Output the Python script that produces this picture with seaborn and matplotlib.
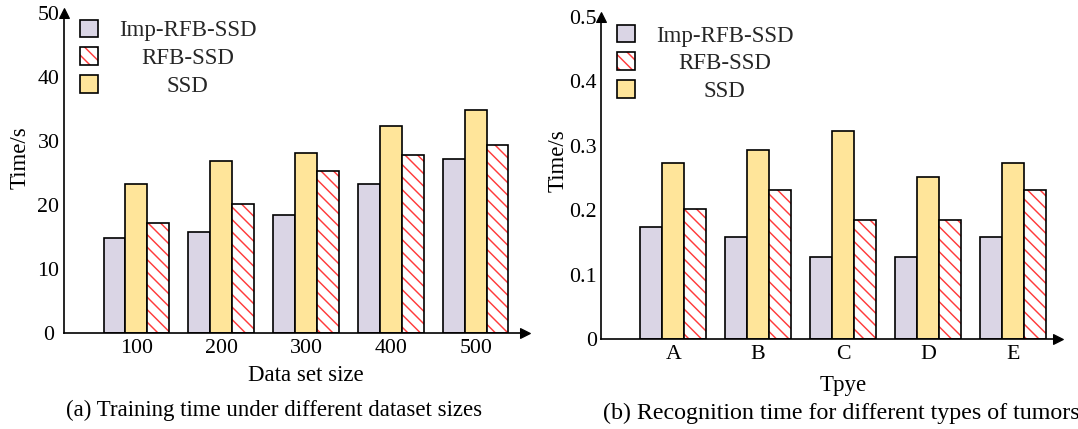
import matplotlib
matplotlib.use('Agg')
import matplotlib.pyplot as plt
from matplotlib.patches import Patch, Rectangle
import seaborn as sns
import pandas as pd

# data
sizes = ['100', '200', '300', '400', '500']
imp_train = [14.9, 15.8, 18.5, 23.3, 27.3]
ssd_train = [23.3, 26.9, 28.1, 32.4, 34.9]
rfb_train = [17.3, 20.2, 25.3, 27.8, 29.4]

types = ['A', 'B', 'C', 'D', 'E']
imp_rec = [0.174, 0.159, 0.127, 0.127, 0.159]
ssd_rec = [0.273, 0.293, 0.323, 0.252, 0.273]
rfb_rec = [0.202, 0.232, 0.185, 0.185, 0.232]

ticks_left = [0, 10, 20, 30, 40, 50]
labels_left = ['0', '10', '20', '30', '40', '50']
ticks_right = [0, 0.1, 0.2, 0.3, 0.4, 0.5]
labels_right = ['0', '0.1', '0.2', '0.3', '0.4', '0.5']

models = ['Imp-RFB-SSD', 'SSD', 'RFB-SSD']
legend_order = ['Imp-RFB-SSD', 'RFB-SSD', 'SSD']
colors = {'Imp-RFB-SSD': '#DAD5E5', 'SSD': '#FFE59A', 'RFB-SSD': '#FFFFFF'}
HATCH_RED = '#FF3B3B'

sns.set_theme(style='white')
plt.rcParams['font.family'] = ['Liberation Serif', 'DejaVu Serif']
plt.rcParams['hatch.linewidth'] = 1.4

DPI = 75
fig = plt.figure(figsize=(1078 / DPI, 429 / DPI), dpi=DPI)
ax1 = fig.add_axes([0.0594, 0.223, 0.4276, 0.746])
ax2 = fig.add_axes([0.5575, 0.209, 0.424, 0.752])


def draw_panel(ax, cats, imp, ssd, rfb, ymax, xmax, leg_y):
    df = pd.DataFrame({
        'cat': cats * 3,
        'model': [m for m in models for _ in cats],
        'val': imp + ssd + rfb,
    })
    sns.barplot(data=df, x='cat', y='val', hue='model', hue_order=models,
                palette=colors, width=0.77, gap=0, saturation=1,
                edgecolor='black', linewidth=1.6, errorbar=None,
                legend=False, ax=ax)
    # red hatch on RFB-SSD, black outline on top
    for bar in ax.containers[2]:
        bar.set_edgecolor(HATCH_RED)
        bar.set_linewidth(0)
        bar.set_hatch('\\\\')
        ax.add_patch(Rectangle(bar.get_xy(), bar.get_width(), bar.get_height(),
                               fill=False, edgecolor='black', linewidth=1.6,
                               zorder=bar.get_zorder() + 0.1))
    ax.set_xlim(-0.85, xmax)
    ax.set_ylim(0, ymax)
    for s in ['top', 'right']:
        ax.spines[s].set_visible(False)
    for s in ['left', 'bottom']:
        ax.spines[s].set_linewidth(1.6)
        ax.spines[s].set_color('black')
    ax.tick_params(axis='x', length=0, pad=5, labelsize=21, colors='black')
    ax.tick_params(axis='y', length=3, width=1.2, direction='out',
                   labelsize=21, colors='black')
    # axis arrows
    ax.plot([0], [1], marker='^', color='black', ms=9, transform=ax.transAxes,
            clip_on=False)
    ax.plot([1], [0], marker='>', color='black', ms=9, transform=ax.transAxes,
            clip_on=False)

    handles = [
        Patch(facecolor=colors['Imp-RFB-SSD'], edgecolor='black', linewidth=1.6),
        (Patch(facecolor='white', edgecolor=HATCH_RED, linewidth=0, hatch='\\\\'),
         Patch(fill=False, edgecolor='black', linewidth=1.6)),
        Patch(facecolor=colors['SSD'], edgecolor='black', linewidth=1.6),
    ]
    leg = ax.legend(handles, legend_order, loc='upper left',
                    bbox_to_anchor=(0.035, leg_y), frameon=False, fontsize=22,
                    handlelength=0.8, handleheight=0.8, handletextpad=0.9,
                    labelspacing=0.26, borderpad=0, borderaxespad=0)
    return leg


leg1 = draw_panel(ax1, sizes, imp_train, ssd_train, rfb_train, 50, 4.58, 0.98)
ax1.set_yticks(ticks_left)
ax1.set_yticklabels(labels_left)
for t in ax1.get_yticklabels():
    t.set_horizontalalignment('center')
ax1.tick_params(axis='y', pad=12)
ax1.set_xlabel('Data set size', fontsize=22, color='black')
ax1.xaxis.set_label_coords(0.525, -0.10)
ax1.set_ylabel('Time/s', fontsize=22, color='black')
ax1.yaxis.set_label_coords(-0.095, 0.55)
ax1.yaxis.label.set_verticalalignment('center')

leg2 = draw_panel(ax2, types, imp_rec, ssd_rec, rfb_rec, 0.5, 4.53, 0.975)
ax2.set_yticks(ticks_right)
ax2.set_yticklabels(labels_right)
ax2.tick_params(axis='y', pad=1)
ax2.set_xlabel('Tpye', fontsize=22, color='black')
ax2.xaxis.set_label_coords(0.53, -0.11)
ax2.set_ylabel('Time/s', fontsize=22, color='black')
ax2.yaxis.set_label_coords(-0.094, 0.555)
ax2.yaxis.label.set_verticalalignment('center')

# centre the legend labels under each other
fig.canvas.draw()
r = fig.canvas.get_renderer()
for leg in (leg1, leg2):
    texts = leg.get_texts()
    ws = [t.get_window_extent(r).width for t in texts]
    for t, w in zip(texts, ws):
        t.set_x((max(ws) - w) / 2)

fig.text(274 / 1078, 1 - 410 / 429, '(a) Training time under different dataset sizes',
         ha='center', va='center', fontsize=22, color='black')
fig.text(603 / 1078, 1 - 413 / 429, '(b) Recognition time for different types of tumors',
         ha='left', va='center', fontsize=23, color='black')

fig.savefig('out.png', dpi=DPI)
